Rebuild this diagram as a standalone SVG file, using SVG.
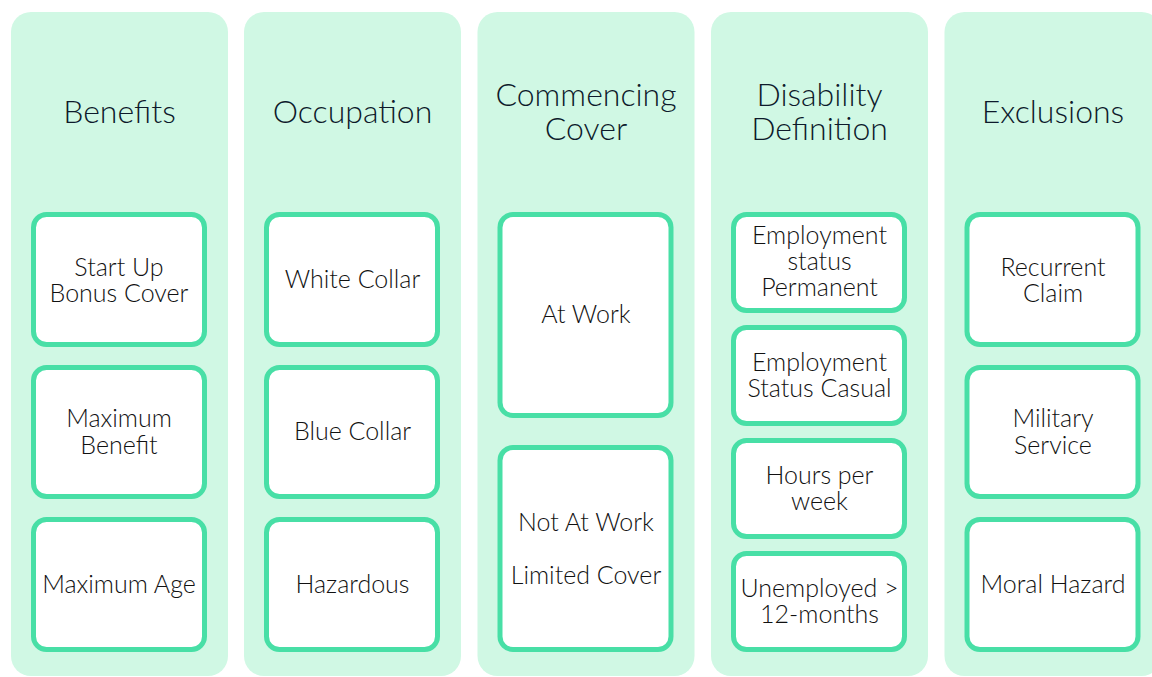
<svg xmlns="http://www.w3.org/2000/svg" width="1152" height="677" viewBox="0 0 1152 677">
  <style>
    .col { fill: #d0f8e4; }
    .box { fill: #ffffff; stroke: #48dfa6; stroke-width: 5; }
    .title { font-family: Lato, "Liberation Sans", sans-serif; font-size: 32px; fill: #0d1a2b; text-anchor: middle; font-weight: 300; }
    .label { font-family: Lato, "Liberation Sans", sans-serif; font-size: 25px; fill: #111111; text-anchor: middle; font-weight: 300; }
  </style>

  <!-- Column: Benefits -->
  <g id="col-benefits">
    <rect class="col" x="11" y="12" width="217" height="664" rx="20"/>
    <text class="title" x="119.5" y="123">Benefits</text>
  </g>
  <g id="start-up-bonus">
    <rect class="box" x="33.5" y="214.5" width="171" height="130" rx="13"/>
    <text class="label" x="119" y="276">Start Up</text>
    <text class="label" x="119" y="302">Bonus Cover</text>
  </g>
  <g id="maximum-benefit">
    <rect class="box" x="33.5" y="367.5" width="171" height="129" rx="13"/>
    <text class="label" x="119" y="427">Maximum</text>
    <text class="label" x="119" y="454">Benefit</text>
  </g>
  <g id="maximum-age">
    <rect class="box" x="33.5" y="519.5" width="171" height="130" rx="13"/>
    <text class="label" x="119" y="593">Maximum Age</text>
  </g>

  <!-- Column: Occupation -->
  <g id="col-occupation">
    <rect class="col" x="244" y="12" width="217" height="664" rx="20"/>
    <text class="title" x="352.5" y="123">Occupation</text>
  </g>
  <g id="white-collar">
    <rect class="box" x="266.5" y="214.5" width="171" height="130" rx="13"/>
    <text class="label" x="352.5" y="288">White Collar</text>
  </g>
  <g id="blue-collar">
    <rect class="box" x="266.5" y="367.5" width="171" height="129" rx="13"/>
    <text class="label" x="352.5" y="440">Blue Collar</text>
  </g>
  <g id="hazardous">
    <rect class="box" x="266.5" y="519.5" width="171" height="130" rx="13"/>
    <text class="label" x="352.5" y="593">Hazardous</text>
  </g>

  <!-- Column: Commencing Cover -->
  <g id="col-commencing">
    <rect class="col" x="477.5" y="12" width="217" height="664" rx="20"/>
    <text class="title" x="586" y="106">Commencing</text>
    <text class="title" x="586" y="140">Cover</text>
  </g>
  <g id="at-work">
    <rect class="box" x="500" y="214.5" width="171" height="201" rx="13"/>
    <text class="label" x="586" y="323">At Work</text>
  </g>
  <g id="not-at-work">
    <rect class="box" x="500" y="447.5" width="171" height="202" rx="13"/>
    <text class="label" x="586" y="531">Not At Work</text>
    <text class="label" x="586" y="584">Limited Cover</text>
  </g>

  <!-- Column: Disability Definition -->
  <g id="col-disability">
    <rect class="col" x="711" y="12" width="217" height="664" rx="20"/>
    <text class="title" x="819.5" y="106">Disability</text>
    <text class="title" x="819.5" y="140">Definition</text>
  </g>
  <g id="employment-permanent">
    <rect class="box" x="733.5" y="214.5" width="171" height="96" rx="13"/>
    <text class="label" x="819.5" y="244">Employment</text>
    <text class="label" x="819.5" y="270">status</text>
    <text class="label" x="819.5" y="296">Permanent</text>
  </g>
  <g id="employment-casual">
    <rect class="box" x="733.5" y="327.5" width="171" height="96" rx="13"/>
    <text class="label" x="819.5" y="371">Employment</text>
    <text class="label" x="819.5" y="397">Status Casual</text>
  </g>
  <g id="hours-per-week">
    <rect class="box" x="733.5" y="440.5" width="171" height="96" rx="13"/>
    <text class="label" x="819.5" y="484">Hours per</text>
    <text class="label" x="819.5" y="510">week</text>
  </g>
  <g id="unemployed">
    <rect class="box" x="733.5" y="553.5" width="171" height="96" rx="13"/>
    <text class="label" x="819.5" y="597">Unemployed &gt;</text>
    <text class="label" x="819.5" y="623">12-months</text>
  </g>

  <!-- Column: Exclusions -->
  <g id="col-exclusions">
    <rect class="col" x="944.5" y="12" width="217" height="664" rx="20"/>
    <text class="title" x="1053" y="123">Exclusions</text>
  </g>
  <g id="recurrent-claim">
    <rect class="box" x="967" y="214.5" width="171" height="130" rx="13"/>
    <text class="label" x="1053" y="276">Recurrent</text>
    <text class="label" x="1053" y="302">Claim</text>
  </g>
  <g id="military-service">
    <rect class="box" x="967" y="367.5" width="171" height="129" rx="13"/>
    <text class="label" x="1053" y="427">Military</text>
    <text class="label" x="1053" y="454">Service</text>
  </g>
  <g id="moral-hazard">
    <rect class="box" x="967" y="519.5" width="171" height="130" rx="13"/>
    <text class="label" x="1053" y="593">Moral Hazard</text>
  </g>

  <!-- No connectors in this diagram -->
  <g id="connectors"/>
</svg>
